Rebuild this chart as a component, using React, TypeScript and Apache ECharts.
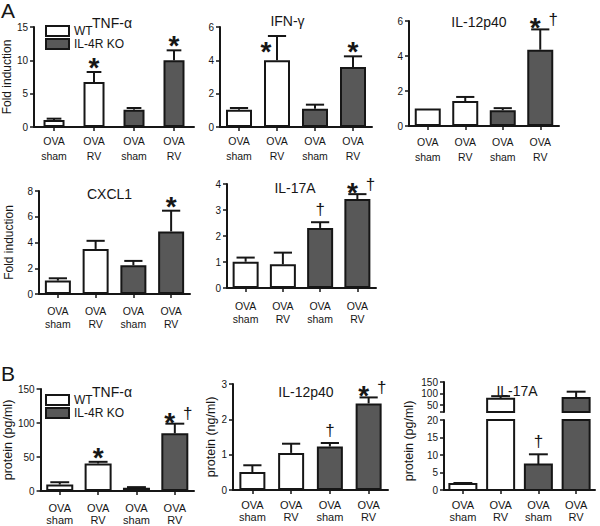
import React, { useEffect, useRef } from "react";
import * as echarts from "echarts";

// ---------- data ----------
const categories = ["OVA\nsham", "OVA\nRV", "OVA\nsham", "OVA\nRV"];
const groupOf = ["WT", "WT", "IL-4R KO", "IL-4R KO"];
const groupNames = ["WT", "IL-4R KO"];

// Panel A (fold induction): mean, SEM, significance marks
const aTnfMean = [1.05, 6.75, 2.6, 10.0];
const aTnfSem = [0.2, 1.5, 0.25, 1.5];
const aTnfSig = ["", "*", "", "*"];

const aIfnMean = [1.04, 4.0, 1.1, 3.6];
const aIfnSem = [0.1, 1.46, 0.24, 0.64];
const aIfnSig = ["", "*", "", "*"];

const aIl12Mean = [1.0, 1.43, 0.9, 4.36];
const aIl12Sem = [0, 0.23, 0.12, 1.16];
const aIl12Sig = ["", "", "", "*†"];

const aCxcl1Mean = [1.04, 3.5, 2.23, 4.86];
const aCxcl1Sem = [0.18, 0.63, 0.34, 1.61];
const aCxcl1Sig = ["", "", "", "*"];

const aIl17Mean = [1.01, 0.91, 2.31, 3.42];
const aIl17Sem = [0.16, 0.45, 0.22, 0.19];
const aIl17Sig = ["", "", "†", "*†"];

// Panel B (protein)
const bTnfMean = [9.5, 40.5, 4.8, 84.8];
const bTnfSem = [3.4, 2.4, 0.9, 14.2];
const bTnfSig = ["", "*", "", "*†"];

const bIl12Mean = [0.51, 1.05, 1.23, 2.45];
const bIl12Sem = [0.19, 0.26, 0.1, 0.17];
const bIl12Sig = ["", "", "†", "*†"];

const bIl17Mean = [1.7, 77, 7.3, 81];
const bIl17Sem = [0.3, 11.6, 2.9, 27];
const bIl17Sig = ["", "", "†", ""];

// axis scales
const yMaxes = [15, 6, 6, 8, 4, 150, 3];
const ySteps = [5, 2, 2, 2, 1, 50, 1];
const bIl17Break = 20;
const bIl17LowerStep = 5;
const bIl17UpperMax = 150;
const bIl17UpperLabels = [50, 100, 150];
const bIl17UpperTicks = [20, 50, 100, 150];

const titles = ["TNF-α", "IFN-γ", "IL-12p40", "CXCL1", "IL-17A", "TNF-α", "IL-12p40", "IL-17A"];
const yNames = ["Fold induction", "", "", "Fold induction", "", "protein (pg/ml)", "protein (ng/ml)", "protein (pg/ml)"];

// ---------- styles / layout ----------
const FONT = "'Liberation Sans', Arial, Helvetica, sans-serif";
const INK = "#161616";
const WT_FILL = "#ffffff";
const KO_FILL = "#585858";
const LW = 2;
const TITLE_SIZE = 14;

const layout = [
  { left: 28, top: 27, width: 166, height: 100, bw: 21, tx: 112, ty: 22.5, lm: 6, lh: 15, ng: 13 },
  { left: 220, top: 27, width: 152, height: 100, bw: 26, tx: 287.5, ty: 21, lm: 6, lh: 15, ng: 13 },
  { left: 409, top: 21, width: 150, height: 105, bw: 26, tx: 479, ty: 22, lm: 8, lh: 15, ng: 13 },
  { left: 39, top: 191, width: 151, height: 103, bw: 26, tx: 109.5, ty: 193.5, lm: 11, lh: 12.5, ng: 24 },
  { left: 227, top: 184, width: 149, height: 104, bw: 26, tx: 295, ty: 188, lm: 11, lh: 13, ng: 13 },
  { left: 32, top: 389, width: 162, height: 104, bw: 27, tx: 112, ty: 391.5, lm: 11, lh: 12, ng: 14 },
  { left: 233, top: 384, width: 155, height: 106, bw: 26, tx: 306, ty: 392, lm: 9, lh: 12, ng: 13 },
];
const b3Lower = { left: 444, top: 420, width: 151, height: 70, bw: 27, lm: 9, lh: 12 };
const b3Upper = { left: 444, top: 382, width: 151, height: 30 };
const b3Title = { tx: 517, ty: 391 };
const b3Name = { x: 409, y: 441 };

const panels = [
  { mean: aTnfMean, sem: aTnfSem, sig: aTnfSig },
  { mean: aIfnMean, sem: aIfnSem, sig: aIfnSig },
  { mean: aIl12Mean, sem: aIl12Sem, sig: aIl12Sig },
  { mean: aCxcl1Mean, sem: aCxcl1Sem, sig: aCxcl1Sig },
  { mean: aIl17Mean, sem: aIl17Sem, sig: aIl17Sig },
  { mean: bTnfMean, sem: bTnfSem, sig: bTnfSig },
  { mean: bIl12Mean, sem: bIl12Sem, sig: bIl12Sig },
];

const axisLineStyle = { color: INK, width: LW };

function xAxisFor(g: number, show: boolean, lm: number, lh: number, fs: number) {
  return {
    type: "category",
    gridIndex: g,
    data: categories,
    show,
    axisLine: { show: true, lineStyle: axisLineStyle },
    axisTick: { show: true, alignWithLabel: true, length: 4, lineStyle: { color: INK, width: 1.5 } },
    axisLabel: { show: true, interval: 0, color: INK, fontFamily: FONT, fontSize: fs, lineHeight: lh, margin: lm },
  };
}

function yAxisBase(g: number) {
  return {
    type: "value",
    gridIndex: g,
    splitLine: { show: false },
    axisLine: { show: true, lineStyle: axisLineStyle },
    axisTick: { show: true, length: 4, lineStyle: { color: INK, width: 1.5 } },
    axisLabel: { color: INK, fontFamily: FONT, fontSize: 10, margin: 6 },
  };
}

function errorSeries(g: number, items: number[][], cap: number) {
  return {
    type: "custom",
    xAxisIndex: g,
    yAxisIndex: g,
    z: 4,
    silent: true,
    data: items,
    renderItem: (params: any, api: any) => {
      const i = api.value(0);
      const lo = api.coord([i, api.value(1)]);
      const hi = api.coord([i, api.value(2)]);
      if (lo[1] - hi[1] < 0.5) return null;
      return {
        type: "group",
        children: [
          { type: "line", shape: { x1: lo[0], y1: lo[1], x2: hi[0], y2: hi[1] }, style: { stroke: INK, lineWidth: LW } },
          { type: "line", shape: { x1: hi[0] - cap / 2, y1: hi[1], x2: hi[0] + cap / 2, y2: hi[1] }, style: { stroke: INK, lineWidth: LW } },
        ],
      };
    },
  };
}

// title box (for keeping marks clear of the panel title)
type Box = { x0: number; x1: number; y0: number; y1: number };
function titleBox(text: string, cx: number, cy: number): Box {
  const w = text.length * TITLE_SIZE * 0.52;
  return { x0: cx - w / 2, x1: cx + w / 2, y0: cy - TITLE_SIZE * 0.55, y1: cy + TITLE_SIZE * 0.55 };
}

function sigSeries(g: number, mean: number[], sem: number[], sig: string[], tbox: Box | null) {
  return {
    type: "custom",
    xAxisIndex: g,
    yAxisIndex: g,
    z: 5,
    silent: true,
    data: mean.map((m, i) => [i, m + sem[i]]),
    renderItem: (params: any, api: any) => {
      const mark = sig[params.dataIndex];
      if (!mark) return null;
      const p = api.coord([api.value(0), api.value(1)]);
      const star = (dx: number, dy: number) => ({
        type: "text",
        x: p[0] + dx,
        y: p[1] + dy + 6.5,
        style: { text: "*", textAlign: "center", textVerticalAlign: "middle", align: "center", verticalAlign: "middle", fontSize: 28, fontWeight: "bold", fontFamily: FONT, fill: INK },
      });
      const dagger = (dx: number, dy: number) => ({
        type: "text",
        x: p[0] + dx,
        y: p[1] + dy,
        style: { text: "†", textAlign: "center", textVerticalAlign: "middle", align: "center", verticalAlign: "middle", fontSize: 17, fontFamily: FONT, fill: INK },
      });
      const sx = p[0];
      const sy = p[1] - 11;
      const hitsTitle =
        !!tbox && sx + 6 > tbox.x0 && sx - 6 < tbox.x1 && sy + 6 > tbox.y0 && sy - 6 < tbox.y1;
      const children: any[] = [];
      if (mark === "*") {
        if (hitsTitle) children.push(star(-11, 9));
        else children.push(star(0, -11));
      } else if (mark === "†") children.push(dagger(0, -13));
      else if (mark === "*†") {
        children.push(star(-5, -8));
        children.push(dagger(13, -10));
      }
      return { type: "group", children };
    },
  };
}

function titleText(text: string, x: number, y: number) {
  return {
    type: "text",
    x,
    y,
    style: {
      text,
      textAlign: "center",
      textVerticalAlign: "middle",
      align: "center",
      verticalAlign: "middle",
      fontSize: TITLE_SIZE,
      fontFamily: FONT,
      fill: INK,
    },
  };
}

function buildOption() {
  const grid: any[] = [];
  const xAxis: any[] = [];
  const yAxis: any[] = [];
  const series: any[] = [];
  const graphic: any[] = [];

  panels.forEach((p, g) => {
    const L = layout[g];
    grid.push({ left: L.left, top: L.top, width: L.width, height: L.height, containLabel: false });
    xAxis.push(xAxisFor(g, true, L.lm, L.lh, g < 5 ? 10.5 : 11));
    yAxis.push({
      ...yAxisBase(g),
      min: 0,
      max: yMaxes[g],
      interval: ySteps[g],
      name: yNames[g],
      nameLocation: "middle",
      nameGap: L.ng,
      nameTextStyle: { color: INK, fontFamily: FONT, fontSize: g >= 5 ? 12.5 : 12 },
    });
    groupNames.forEach((gn) => {
      series.push({
        type: "bar",
        name: gn,
        xAxisIndex: g,
        yAxisIndex: g,
        barWidth: L.bw,
        barGap: "-100%",
        clip: false,
        z: 3,
        data: p.mean.map((v, i) => (groupOf[i] === gn ? v : "-")),
        itemStyle: { color: gn === "WT" ? WT_FILL : KO_FILL, borderColor: INK, borderWidth: LW },
      });
    });
    series.push(errorSeries(g, p.mean.map((m, i) => [i, m, m + p.sem[i]]), L.bw * 0.7));
    series.push(sigSeries(g, p.mean, p.sem, p.sig, titleBox(titles[g], L.tx, L.ty)));
    graphic.push(titleText(titles[g], L.tx, L.ty));
  });

  // B: IL-17A with broken y axis (lower grid 7, upper grid 8)
  const gl = 7;
  const gu = 8;
  grid.push({ left: b3Lower.left, top: b3Lower.top, width: b3Lower.width, height: b3Lower.height });
  grid.push({ left: b3Upper.left, top: b3Upper.top, width: b3Upper.width, height: b3Upper.height });
  xAxis.push(xAxisFor(gl, true, b3Lower.lm, b3Lower.lh, 11));
  xAxis.push({ type: "category", gridIndex: gu, data: categories, show: false });
  yAxis.push({ ...yAxisBase(gl), min: 0, max: bIl17Break, interval: bIl17LowerStep });
  yAxis.push({
    ...yAxisBase(gu),
    min: bIl17Break,
    max: bIl17UpperMax,
    axisTick: { show: true, length: 4, lineStyle: { color: INK, width: 1.5 }, customValues: bIl17UpperTicks },
    axisLabel: { color: INK, fontFamily: FONT, fontSize: 10, margin: 6, customValues: bIl17UpperLabels },
  });
  const rectRender = (fill: string) => (params: any, api: any) => {
    const i = api.value(0);
    const p0 = api.coord([i, api.value(1)]);
    const p1 = api.coord([i, api.value(2)]);
    const w = b3Lower.bw;
    return {
      type: "rect",
      shape: { x: p0[0] - w / 2, y: p1[1], width: w, height: p0[1] - p1[1] },
      style: { fill, stroke: INK, lineWidth: LW },
    };
  };
  groupNames.forEach((gn) => {
    const fill = gn === "WT" ? WT_FILL : KO_FILL;
    const idx = bIl17Mean.map((_, i) => i).filter((i) => groupOf[i] === gn);
    series.push({
      type: "custom",
      name: gn,
      xAxisIndex: gl,
      yAxisIndex: gl,
      z: 3,
      itemStyle: { color: fill, borderColor: INK, borderWidth: LW },
      data: idx.map((i) => [i, 0, Math.min(bIl17Mean[i], bIl17Break)]),
      renderItem: rectRender(fill),
    });
    series.push({
      type: "custom",
      name: gn,
      xAxisIndex: gu,
      yAxisIndex: gu,
      z: 3,
      itemStyle: { color: fill, borderColor: INK, borderWidth: LW },
      data: idx.filter((i) => bIl17Mean[i] > bIl17Break).map((i) => [i, bIl17Break, bIl17Mean[i]]),
      renderItem: rectRender(fill),
    });
  });
  const cap3 = b3Lower.bw * 0.7;
  series.push(errorSeries(gl, bIl17Mean.map((m, i) => [i, m, m + bIl17Sem[i]]).filter((d) => d[1] < bIl17Break), cap3));
  series.push(errorSeries(gu, bIl17Mean.map((m, i) => [i, m, m + bIl17Sem[i]]).filter((d) => d[1] >= bIl17Break), cap3));
  series.push(sigSeries(gl, bIl17Mean, bIl17Sem, bIl17Sig, null));
  graphic.push(titleText(titles[7], b3Title.tx, b3Title.ty));
  graphic.push({
    type: "text",
    x: b3Name.x,
    y: b3Name.y,
    rotation: Math.PI / 2,
    style: {
      text: yNames[7],
      textAlign: "center",
      textVerticalAlign: "middle",
      align: "center",
      verticalAlign: "middle",
      fontSize: 12.5,
      fontFamily: FONT,
      fill: INK,
    },
  });
  // panel letters
  graphic.push({ type: "text", x: 1, y: 0, style: { text: "A", fontSize: 21, fontFamily: FONT, fill: INK } });
  graphic.push({ type: "text", x: 1, y: 363, style: { text: "B", fontSize: 21, fontFamily: FONT, fill: INK } });

  const legendBase = {
    orient: "vertical",
    left: 45,
    itemWidth: 23,
    itemHeight: 10,
    itemGap: 1,
    padding: 0,
    icon: "rect",
    selectedMode: false,
    data: groupNames,
    textStyle: { color: INK, fontFamily: FONT, fontSize: 12 },
  };

  return {
    animation: false,
    backgroundColor: "#ffffff",
    textStyle: { fontFamily: FONT },
    grid,
    xAxis,
    yAxis,
    series,
    graphic,
    legend: [
      { ...legendBase, top: 25 },
      { ...legendBase, top: 394 },
    ],
  };
}

export default function App() {
  const ref = useRef<HTMLDivElement>(null);
  useEffect(() => {
    const chart = echarts.init(ref.current!, null, { renderer: "svg" });
    chart.setOption(buildOption() as any);
    return () => chart.dispose();
  }, []);
  return (
    <div
      ref={ref}
      style={{ position: "absolute", left: 0, top: 0, width: 600, height: 526, background: "#fff" }}
    />
  );
}
